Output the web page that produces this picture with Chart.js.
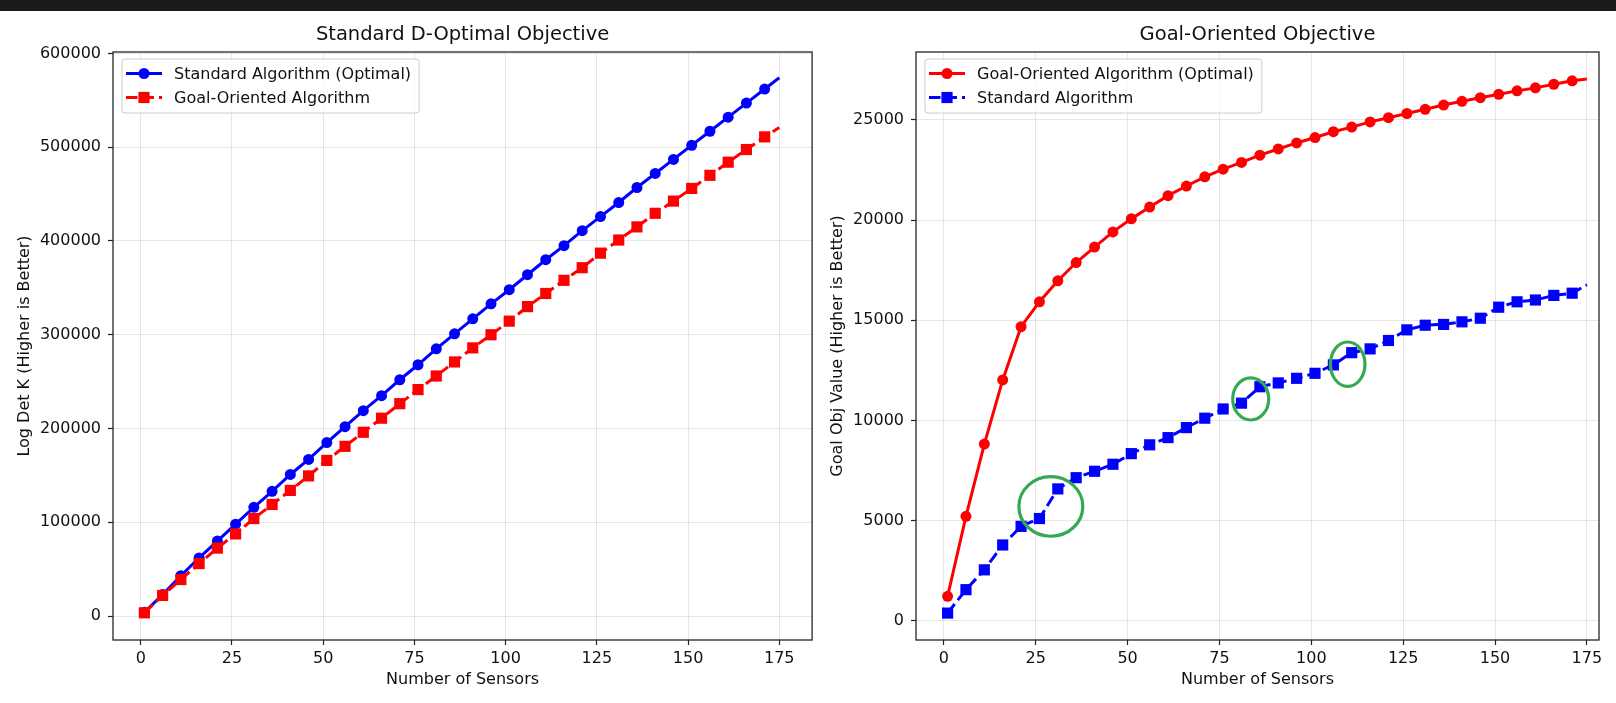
<!DOCTYPE html>
<html lang="en">
<head>
<meta charset="UTF-8">
<title>Standard vs Goal-Oriented sensor selection</title>
<script src="https://cdn.jsdelivr.net/npm/chart.js@4.4.1/dist/chart.umd.min.js"></script>
<style>
  html, body { margin: 0; padding: 0; background: #fff; }
  body { width: 1616px; height: 703px; position: relative; overflow: hidden; }
  #topbar { position: absolute; left: 0; top: 0; width: 1616px; height: 11px; background: #1a1a1a; z-index: 2; }
  canvas { position: absolute; top: 0; }
  #left { left: 0; }
  #right { left: 820px; }
</style>
</head>
<body>
<div id="topbar"></div>
<canvas id="left" width="820" height="703"></canvas>
<canvas id="right" width="796" height="703"></canvas>
<script>
// number of sensors (markers every 5, last point without marker)
const sensors = [1, 6, 11, 16, 21, 26, 31, 36, 41, 46, 51, 56, 61, 66, 71, 76, 81, 86,
  91, 96, 101, 106, 111, 116, 121, 126, 131, 136, 141, 146, 151, 156, 161, 166, 171, 175];

// left panel: log det K
const logdetStandard = [4000, 23000, 43000, 62000, 80000, 98000, 116000, 133000, 151000, 167000,
  185000, 202000, 219000, 235000, 252000, 268000, 285000, 301000, 317000, 333000,
  348000, 364000, 380000, 395000, 411000, 426000, 441000, 457000, 472000, 487000,
  502000, 517000, 532000, 547000, 562000, 574000];
const logdetGoal = [3500, 22000, 39000, 56000, 72500, 87600, 104000, 119000, 134000, 149500,
  166000, 181000, 196000, 211000, 226500, 241500, 256000, 271000, 286000, 300000,
  314500, 330000, 344000, 358000, 371500, 387000, 401000, 415000, 429500, 442500,
  456000, 470000, 484000, 497500, 511000, 521000];

// right panel: goal objective value
const goalGoal = [1220, 5210, 8820, 12020, 14680, 15920, 16970, 17880, 18650, 19410,
  20060, 20650, 21220, 21700, 22160, 22540, 22880, 23240, 23550, 23850,
  24120, 24410, 24640, 24900, 25110, 25320, 25530, 25740, 25930, 26110,
  26280, 26450, 26600, 26780, 26950, 27040];
const goalStandard = [380, 1550, 2540, 3780, 4710, 5100, 6580, 7140, 7460, 7810,
  8340, 8780, 9140, 9640, 10110, 10570, 10860, 11680, 11870, 12100,
  12350, 12770, 13380, 13570, 13990, 14520, 14750, 14790, 14920, 15100,
  15650, 15920, 16010, 16240, 16350, 16770];

// green circles drawn around the jumps (data coordinates)
const jumpX = [29.1, 83.5, 109.9];
const jumpY = [5706, 11070, 12805];
const jumpRX = [8.7, 4.9, 4.7];
const jumpRY = [1490, 1050, 1107];

const xTicks = [0, 25, 50, 75, 100, 125, 150, 175];
const logdetTicks = [0, 100000, 200000, 300000, 400000, 500000, 600000];
const goalTicks = [0, 5000, 10000, 15000, 20000, 25000];

Chart.defaults.font.family = '"DejaVu Sans", sans-serif';
Chart.defaults.color = '#111';

const BLUE = '#0000ff';
const RED = '#ff0000';
const DASH = [11.5, 5];
const gridColor = 'rgba(176,176,176,0.32)';

const pts = ys => sensors.map((s, i) => ({ x: s, y: ys[i] }));
const markers = r => ctx => (ctx.dataIndex === sensors.length - 1 ? 0 : r);

function series(label, ys, color, style, dashed, order) {
  return {
    label,
    data: pts(ys),
    borderColor: color,
    backgroundColor: color,
    borderWidth: 3,
    borderDash: dashed ? DASH : [],
    pointStyle: style,
    pointRadius: markers(style === 'rect' ? 7.9 : 5.5),
    pointBorderWidth: 0,
    pointBackgroundColor: color,
    tension: 0,
    order
  };
}

const framePlugin = {
  id: 'frame',
  afterDatasetsDraw(chart) {
    const { ctx, chartArea: a } = chart;
    ctx.save();
    ctx.strokeStyle = '#262626';
    ctx.lineWidth = 1.3;
    ctx.strokeRect(a.left, a.top, a.right - a.left, a.bottom - a.top);
    ctx.restore();
  }
};

const legendPlugin = {
  id: 'boxLegend',
  afterDraw(chart) {
    const { ctx, chartArea: a } = chart;
    const sets = chart.data.datasets;
    ctx.save();
    ctx.font = '16px "DejaVu Sans"';
    const textW = Math.max(...sets.map(d => ctx.measureText(d.label).width));
    const bx = a.left + 9, by = a.top + 7, bw = 52 + textW + 8, bh = 54;
    ctx.beginPath();
    if (ctx.roundRect) ctx.roundRect(bx, by, bw, bh, 3); else ctx.rect(bx, by, bw, bh);
    ctx.fillStyle = 'rgba(255,255,255,0.8)';
    ctx.fill();
    ctx.strokeStyle = '#cccccc';
    ctx.lineWidth = 1;
    ctx.stroke();
    sets.forEach((d, i) => {
      const y = by + 14.5 + i * 24;
      ctx.strokeStyle = d.borderColor;
      ctx.lineWidth = d.borderWidth;
      ctx.setLineDash(d.borderDash);
      ctx.beginPath();
      ctx.moveTo(bx + 4, y);
      ctx.lineTo(bx + 40, y);
      ctx.stroke();
      ctx.setLineDash([]);
      ctx.fillStyle = d.borderColor;
      ctx.beginPath();
      if (d.pointStyle === 'rect') ctx.rect(bx + 22 - 5.6, y - 5.6, 11.2, 11.2);
      else ctx.arc(bx + 22, y, 5.5, 0, Math.PI * 2);
      ctx.fill();
      ctx.fillStyle = '#111';
      ctx.textBaseline = 'middle';
      ctx.fillText(d.label, bx + 52, y + 1);
    });
    ctx.restore();
  }
};

const jumpPlugin = {
  id: 'jumps',
  afterDatasetsDraw(chart, args, opts) {
    if (!opts.show) return;
    const { ctx, scales: { x, y } } = chart;
    ctx.save();
    ctx.strokeStyle = '#35a853';
    ctx.lineWidth = 3.2;
    jumpX.forEach((jx, i) => {
      const cx = x.getPixelForValue(jx), cy = y.getPixelForValue(jumpY[i]);
      const rx = Math.abs(x.getPixelForValue(jx + jumpRX[i]) - cx);
      const ry = Math.abs(y.getPixelForValue(jumpY[i] + jumpRY[i]) - cy);
      ctx.beginPath();
      ctx.ellipse(cx, cy, rx, ry, 0, 0, Math.PI * 2);
      ctx.stroke();
    });
    ctx.restore();
  }
};

function makeChart(id, p) {
  return new Chart(document.getElementById(id), {
    type: 'line',
    data: { datasets: p.datasets },
    plugins: [framePlugin, jumpPlugin, legendPlugin],
    options: {
      responsive: false,
      animation: false,
      devicePixelRatio: 1,
      layout: { padding: { left: 0, right: p.padRight, top: 0, bottom: 0 } },
      plugins: {
        legend: { display: false },
        tooltip: { enabled: false },
        jumps: { show: p.jumps },
        title: {
          display: true, text: p.title, fullSize: false,
          font: { size: 19.5, weight: 'normal' }, color: '#111',
          padding: { top: 23, bottom: 5.6 }
        }
      },
      scales: {
        x: {
          type: 'linear', min: p.xMin, max: p.xMax,
          afterBuildTicks: s => { s.ticks = xTicks.map(v => ({ value: v })); },
          afterFit: s => { s.height = 63; },
          grid: { color: gridColor, lineWidth: 1, tickLength: 5, tickColor: '#222', tickWidth: 1.2 },
          border: { display: false },
          ticks: { padding: 4, font: { size: 16 }, color: '#111', maxRotation: 0, autoSkip: false, callback: v => String(v) },
          title: { display: true, text: 'Number of Sensors', font: { size: 16 }, color: '#111', padding: { top: 0, bottom: 13.7 } }
        },
        y: {
          type: 'linear', min: p.yMin, max: p.yMax,
          afterBuildTicks: s => { s.ticks = p.yTicks.map(v => ({ value: v })); },
          afterFit: s => { s.width = p.yWidth; },
          grid: { color: gridColor, lineWidth: 1, tickLength: 5, tickColor: '#222', tickWidth: 1.2 },
          border: { display: false },
          ticks: { padding: 7, font: { size: 16 }, color: '#111', callback: v => String(v) },
          title: { display: true, text: p.yTitle, font: { size: 16 }, color: '#111', padding: { top: p.yTitlePad, bottom: 0 } }
        }
      }
    }
  });
}

makeChart('left', {
  title: 'Standard D-Optimal Objective',
  yTitle: 'Log Det K (Higher is Better)',
  datasets: [
    series('Standard Algorithm (Optimal)', logdetStandard, BLUE, 'circle', false, 1),
    series('Goal-Oriented Algorithm', logdetGoal, RED, 'rect', true, 0)
  ],
  yTicks: logdetTicks, yMin: -25500, yMax: 601500,
  xMin: -7.6, xMax: 184,
  yWidth: 113, yTitlePad: 15, padRight: 7, jumps: false
});

makeChart('right', {
  title: 'Goal-Oriented Objective',
  yTitle: 'Goal Obj Value (Higher is Better)',
  datasets: [
    series('Goal-Oriented Algorithm (Optimal)', goalGoal, RED, 'circle', false, 1),
    series('Standard Algorithm', goalStandard, BLUE, 'rect', true, 0)
  ],
  yTicks: goalTicks, yMin: -963, yMax: 28390,
  xMin: -7.6, xMax: 178.3,
  yWidth: 96, yTitlePad: 8.4, padRight: 17, jumps: true
});
</script>
</body>
</html>
